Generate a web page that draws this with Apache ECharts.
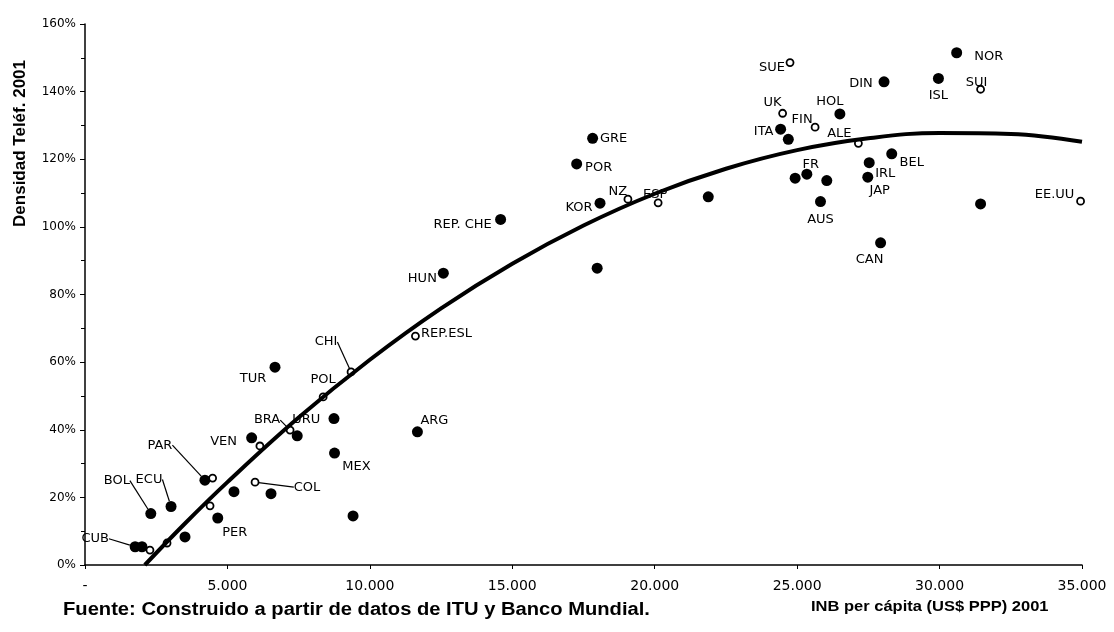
<!DOCTYPE html>
<html>
<head>
<meta charset="utf-8">
<script src="https://cdn.jsdelivr.net/npm/echarts@6/dist/echarts.min.js"></script>
<style>html,body{margin:0;padding:0;background:#fff}#c{width:1114px;height:632px}</style>
</head>
<body>
<div id="c"></div>
<script>
// ---- DATA ----
// Filled markers
const filledNames = ['CUB','','BOL','ECU','PER','','PAR','','','','VEN','URU','','MEX','TUR','ARG','HUN','REP. CHE','GRE','POR','KOR','','','','ITA','HOL','DIN','ISL','NOR','BEL','FR','','','IRL','JAP','AUS','CAN',''];
const filledGNI   = [1760,2000,2310,3020,4660,3510,4210,5230,6530,9410,5850,7450,8740,8760,6670,11670,12580,14590,17820,17260,18080,21880,17980,24690,24420,26500,28050,29960,30600,28320,25340,24930,26040,27530,27480,25820,27930,31440];
const filledDens  = [5.4,5.4,15.2,17.3,13.9,8.3,25.1,21.7,21.1,14.5,37.6,38.2,43.3,33.1,58.5,39.4,86.3,102.2,126.2,118.6,107.0,108.9,87.8,125.9,128.9,133.4,142.9,143.9,151.5,121.6,115.6,114.4,113.7,119.0,114.7,107.5,95.3,106.8];
// Open markers
const openNames = ['','','','','COL','','BRA','POL','CHI','REP.ESL','NZ','ESP','SUE','UK','FIN','ALE','SUI','EE.UU'];
const openGNI   = [2280,2880,4480,4390,5970,6140,7200,8360,9340,11600,19060,20120,24750,24490,25630,27150,31440,34950];
const openDens  = [4.4,6.5,25.7,17.5,24.5,35.2,39.9,49.7,57.1,67.7,108.2,107.1,148.6,133.6,129.5,124.7,140.7,107.6];
// Trend curve
const trendGNI  = [2100,3500,5000,7500,10000,12500,15000,17500,20000,22500,25000,27500,30000,32500,35000];
const trendDens = [0,12.2,24.5,43.6,60.7,75.9,89.1,100.4,109.8,117.2,122.7,126.2,127.8,127.5,125.2];
// Tick labels
const xTickLabels = ['-','5.000','10.000','15.000','20.000','25.000','30.000','35.000'];
const yTickLabels = ['0%','20%','40%','60%','80%','100%','120%','140%','160%'];
const yTitle = 'Densidad Teléf. 2001';
const xTitle = 'INB per cápita (US$ PPP) 2001';
const source = 'Fuente: Construido a partir de datos de ITU y Banco Mundial.';

// ---- LAYOUT / STYLE ----
const labelOffsets = {
  'CUB':[-40,-8],'BOL':[-34,-33],'ECU':[-22,-27],'PER':[17,15],'PAR':[-45,-35],'COL':[52,5],
  'VEN':[-28,4],'BRA':[-23,-10],'URU':[9,-16],'TUR':[-22,11],'CHI':[-25,-30],'POL':[0,-17],
  'MEX':[22,14],'ARG':[17,-11],'REP.ESL':[31,-2],'HUN':[-21,5],'REP. CHE':[-38,5],'GRE':[21,0],
  'POR':[22,4],'KOR':[-21,4],'NZ':[-10,-8],'ESP':[-3,-8],'SUE':[-18,5],'UK':[-10,-11],
  'FIN':[-13,-8],'ITA':[-17,2],'HOL':[-10,-12],'ALE':[-19,-10],'DIN':[-23,2],'ISL':[0,17],
  'NOR':[32,4],'SUI':[-4,-7],'BEL':[20,9],'FR':[4,-10],'IRL':[16,11],'JAP':[12,13],
  'AUS':[0,18],'CAN':[-11,17],'EE.UU':[-26,-7]
};
const leaders = ['CUB','BOL','ECU','PAR','COL','BRA','CHI'];

function items(names, xs, ys) {
  return names.map((n, i) => ({
    name: n,
    value: [xs[i], ys[i]],
    label: { show: n !== '' },
    labelLine: { show: leaders.indexOf(n) >= 0 }
  }));
}

const labelStyle = {
  position: 'inside',
  formatter: p => p.name,
  color: '#000',
  opacity: 1,
  fontFamily: 'DejaVu Sans',
  fontSize: 13
};
const layoutFn = p => {
  const o = labelOffsets[p.text] || [0, 0];
  return { dx: o[0], dy: o[1] };
};

const chart = echarts.init(document.getElementById('c'), null, { renderer: 'canvas' });
chart.setOption({
  animation: false,
  backgroundColor: '#fff',
  grid: { left: 85, right: 32, top: 24, bottom: 67, containLabel: false },
  xAxis: {
    type: 'value', min: 0, max: 35000, interval: 5000,
    axisLine: { show: true, lineStyle: { color: '#000', width: 1.5 } },
    axisTick: { show: true, length: 4, lineStyle: { color: '#000' } },
    splitLine: { show: false },
    axisLabel: {
      margin: 14, color: '#000', fontFamily: 'DejaVu Sans', fontSize: 14,
      formatter: v => xTickLabels[Math.round(v / 5000)]
    }
  },
  yAxis: {
    type: 'value', min: 0, max: 160, interval: 20,
    axisLine: { show: true, lineStyle: { color: '#000', width: 1.5 } },
    axisTick: { show: true, length: 5, lineStyle: { color: '#000' } },
    minorTick: { show: true, splitNumber: 2, length: 4, lineStyle: { color: '#000' } },
    splitLine: { show: false },
    axisLabel: {
      margin: 9, color: '#000', fontFamily: 'DejaVu Sans', fontSize: 12,
      formatter: v => yTickLabels[Math.round(v / 20)]
    }
  },
  series: [
    {
      type: 'scatter', symbol: 'circle', symbolSize: 11,
      itemStyle: { color: '#000', opacity: 1 },
      data: items(filledNames, filledGNI, filledDens),
      label: labelStyle,
      labelLayout: layoutFn,
      labelLine: { lineStyle: { color: '#000', width: 1.2 } },
      z: 3
    },
    {
      type: 'scatter', symbol: 'circle', symbolSize: 7,
      itemStyle: { color: '#fff', borderColor: '#000', borderWidth: 1.8, opacity: 1 },
      data: items(openNames, openGNI, openDens),
      label: labelStyle,
      labelLayout: layoutFn,
      labelLine: { lineStyle: { color: '#000', width: 1.2 } },
      z: 3
    },
    {
      type: 'line', smooth: 0.4, symbol: 'none',
      lineStyle: { color: '#000', width: 4 },
      data: trendGNI.map((x, i) => [x, trendDens[i]]),
      z: 4
    }
  ],
  graphic: [
    { type: 'text', left: 12, top: 60, rotation: Math.PI / 2,
      style: { text: yTitle, fill: '#000', font: 'bold 17px "Liberation Sans"' } },
    { type: 'text', x: 63, y: 610, scaleX: 1.12,
      style: { text: source, fill: '#000', font: 'bold 18px "Liberation Sans"', textVerticalAlign: 'middle' } },
    { type: 'text', x: 811, y: 607, scaleX: 1.1,
      style: { text: xTitle, fill: '#000', font: 'bold 15px "Liberation Sans"', textVerticalAlign: 'middle' } }
  ]
});
</script>
</body>
</html>
